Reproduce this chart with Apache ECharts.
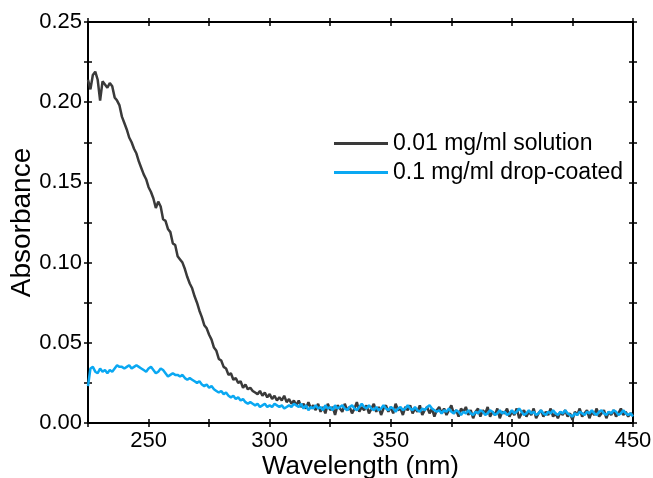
<!DOCTYPE html>
<html>
<head>
<meta charset="utf-8">
<script src="https://cdn.jsdelivr.net/npm/echarts@6/dist/echarts.min.js"></script>
<style>
  html, body { margin: 0; padding: 0; background: #fff; }
  #chart1 { width: 653px; height: 478px; }
</style>
</head>
<body>
<div id="chart1"></div>
<script>
// wavelength grid, 1 nm steps from 225 to 450
const wlStart = 225;

// 0.01 mg/ml solution
const solution = [
  .214, .208, .217, .219, .214, .201, .213, .211, .209, .212,
  .210, .203, .201, .198, .191, .187, .183, .178, .175, .171,
  .168, .163, .159, .155, .152, .147, .144, .140, .134, .138,
  .135, .127, .126, .121, .119, .112, .111, .104, .102, .100,
  .096, .091, .087, .084, .079, .075, .070, .066, .061, .059,
  .055, .052, .047, .045, .040, .039, .035, .034, .030, .031,
  .027, .028, .025, .026, .022, .024, .021, .022, .020, .019,
  .018, .020, .017, .019, .016, .018, .015, .017, .014, .016,
  .014, .017, .013, .015, .012, .014, .011, .014, .010, .012,
  .009, .013, .009, .011, .008, .012, .007, .010, .006, .012,
  .008, .010, .005, .011, .009, .007, .012, .008, .010, .006,
  .009, .013, .007, .010, .008, .011, .006, .009, .012, .007,
  .010, .005, .009, .011, .007, .010, .006, .012, .008, .009,
  .005, .010, .008, .011, .006, .009, .007, .011, .005, .008,
  .010, .006, .009, .004, .008, .010, .006, .009, .005, .008,
  .011, .006, .008, .004, .009, .007, .010, .005, .008, .003,
  .007, .009, .004, .008, .006, .010, .004, .007, .005, .009,
  .003, .007, .006, .009, .004, .007, .005, .009, .003, .006,
  .008, .004, .007, .005, .009, .003, .006, .008, .004, .007,
  .005, .009, .004, .006, .003, .007, .005, .008, .004, .006,
  .002, .007, .005, .009, .004, .006, .008, .003, .007, .005,
  .009, .004, .006, .008, .003, .007, .005, .008, .004, .006,
  .009, .005, .007, .004, .006, .005
];

// 0.1 mg/ml drop-coated
const dropCoated = [
  .023, .034, .035, .032, .031, .034, .032, .033, .031, .033,
  .032, .034, .036, .035, .035, .034, .035, .036, .034, .035,
  .036, .035, .034, .033, .032, .034, .035, .033, .031, .032,
  .034, .033, .031, .029, .030, .031, .030, .030, .029, .030,
  .028, .027, .028, .027, .026, .025, .026, .024, .023, .024,
  .022, .023, .021, .020, .019, .020, .018, .019, .017, .016,
  .017, .015, .016, .014, .015, .013, .012, .013, .012, .011,
  .012, .010, .011, .012, .010, .011, .010, .012, .011, .010,
  .011, .009, .010, .011, .010, .012, .011, .010, .012, .009,
  .011, .008, .010, .009, .011, .009, .010, .008, .011, .009,
  .010, .008, .011, .009, .010, .011, .009, .008, .010, .011,
  .009, .008, .010, .012, .010, .009, .011, .009, .008, .010,
  .008, .009, .011, .009, .008, .010, .009, .007, .009, .010,
  .008, .009, .011, .009, .008, .010, .008, .007, .009, .008,
  .010, .011, .009, .008, .007, .008, .006, .008, .007, .009,
  .007, .006, .008, .007, .005, .007, .006, .008, .006, .005,
  .007, .006, .008, .007, .005, .006, .008, .007, .005, .006,
  .008, .006, .007, .005, .006, .008, .006, .007, .009, .007,
  .005, .006, .008, .006, .007, .005, .006, .008, .006, .005,
  .007, .006, .008, .006, .005, .007, .006, .008, .006, .005,
  .004, .006, .005, .007, .006, .005, .007, .006, .008, .006,
  .005, .007, .008, .006, .005, .007, .006, .008, .007, .005,
  .006, .008, .006, .005, .006, .004
];

const seriesNames = ['0.01 mg/ml solution', '0.1 mg/ml drop-coated'];
const seriesColors = ['#3a3a3a', '#0aa8f2'];

const font = '"Liberation Sans", Arial, sans-serif';

const toPairs = (arr) => arr.map((v, i) => [wlStart + i, v]);

const xLabel = (v) => (Math.round(v) % 50 === 0 ? String(Math.round(v)) : '');
const yLabel = (v) => (Math.round(v * 1000) % 50 === 0 ? v.toFixed(2) : '');

const xBase = { type: 'value', min: 225, max: 450, interval: 25, splitLine: { show: false } };
const yBase = { type: 'value', min: 0, max: 0.25, interval: 0.025, splitLine: { show: false } };

const tickStyle = { lineStyle: { color: '#000', width: 1.5 }, length: 4 };

const makeX = (position, inside, main) => Object.assign({}, xBase, {
  position: position,
  axisLine: { show: main, onZero: false, lineStyle: { color: '#000', width: 2 } },
  axisTick: Object.assign({ inside: inside }, tickStyle),
  axisLabel: main && position === 'bottom'
    ? { formatter: xLabel, fontSize: 22, color: '#000', fontFamily: font, margin: 7 }
    : { show: false }
});

const makeY = (position, inside, main) => Object.assign({}, yBase, {
  position: position,
  axisLine: { show: main, onZero: false, lineStyle: { color: '#000', width: 2 } },
  axisTick: Object.assign({ inside: inside }, tickStyle),
  axisLabel: main && position === 'left'
    ? { formatter: yLabel, fontSize: 22, color: '#000', fontFamily: font, margin: 6 }
    : { show: false }
});

const getOption = () => {
  const xAxes = [
    makeX('bottom', false, true),
    makeX('bottom', true, false),
    makeX('top', true, true),
    makeX('top', false, false)
  ];
  xAxes[0].name = 'Wavelength (nm)';
  xAxes[0].nameLocation = 'middle';
  xAxes[0].nameGap = 31;
  xAxes[0].nameMoveOverlap = false;
  xAxes[0].nameTextStyle = { fontSize: 26, color: '#000', fontFamily: font };

  const yAxes = [
    makeY('left', false, true),
    makeY('left', true, false),
    makeY('right', true, true),
    makeY('right', false, false)
  ];
  yAxes[0].name = 'Absorbance';
  yAxes[0].nameLocation = 'middle';
  yAxes[0].nameGap = 52;
  yAxes[0].nameMoveOverlap = false;
  yAxes[0].nameTextStyle = { fontSize: 28, color: '#000', fontFamily: font };

  return {
    animation: false,
    backgroundColor: '#fff',
    grid: { left: 88, right: 20, top: 22, bottom: 55, containLabel: false, outerBoundsMode: 'none' },
    xAxis: xAxes,
    yAxis: yAxes,
    legend: {
      orient: 'vertical',
      left: 329,
      top: 127,
      itemWidth: 54,
      itemHeight: 3,
      itemGap: 6,
      icon: 'rect',
      textStyle: { fontSize: 23, color: '#000', fontFamily: font },
      data: seriesNames
    },
    series: [solution, dropCoated].map((arr, i) => ({
      name: seriesNames[i],
      type: 'line',
      xAxisIndex: 0,
      yAxisIndex: 0,
      data: toPairs(arr),
      showSymbol: false,
      color: seriesColors[i],
      lineStyle: { color: seriesColors[i], width: 2.5 },
      z: i === 0 ? 2 : 3
    }))
  };
};

window.addEventListener('load', function() {
  const chart1 = echarts.init(document.getElementById('chart1'));
  chart1.setOption(getOption());
});
</script>
</body>
</html>
